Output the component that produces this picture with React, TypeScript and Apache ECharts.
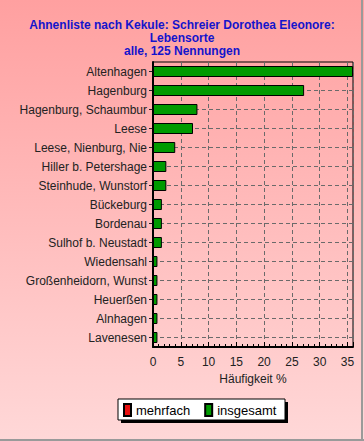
import React, { useEffect, useRef } from "react";
import * as echarts from "echarts";

const titleLines = [
  "Ahnenliste nach Kekule: Schreier Dorothea Eleonore:",
  "Lebensorte",
  "alle, 125 Nennungen",
];
const categories = [
  "Altenhagen",
  "Hagenburg",
  "Hagenburg, Schaumbur",
  "Leese",
  "Leese, Nienburg, Nie",
  "Hiller b. Petershage",
  "Steinhude, Wunstorf",
  "Bückeburg",
  "Bordenau",
  "Sulhof b. Neustadt",
  "Wiedensahl",
  "Großenheidorn, Wunst",
  "Heuerßen",
  "Alnhagen",
  "Lavenesen",
];
const insgesamt = [36, 27.2, 8, 7.2, 4, 2.4, 2.4, 1.6, 1.6, 1.6, 0.8, 0.8, 0.8, 0.8, 0.8];
const mehrfach = [0, 0, 0, 0, 0, 0, 0, 0, 0, 0, 0, 0, 0, 0, 0];
const xTicks = [0, 5, 10, 15, 20, 25, 30, 35];
const xMax = 36;
const xName = "Häufigkeit %";

export default function App() {
  const ref = useRef<HTMLDivElement>(null);
  useEffect(() => {
    document.body.style.margin = "0";
    const chart = echarts.init(ref.current!, null, { renderer: "svg" });
    const font = "Arial, 'Liberation Sans', sans-serif";
    chart.setOption({
      animation: false,
      textStyle: { fontFamily: font },
      title: {
        text: titleLines.join("\n"),
        left: "center",
        top: 13,
        textStyle: {
          fontFamily: font,
          fontSize: 12,
          fontWeight: "bold",
          color: "#1414CC",
          lineHeight: 13,
        },
      },
      graphic: [
        {
          type: "rect",
          z: -10,
          shape: { x: 0, y: 0, width: 364, height: 441 },
          style: {
            fill: new echarts.graphic.LinearGradient(0, 0, 0, 1, [
              { offset: 0, color: "#FFA0A0" },
              { offset: 1, color: "#FFD8D8" },
            ]),
          },
        },
        {
          type: "line",
          z: -5,
          shape: { x1: 362, y1: 0, x2: 362, y2: 441 },
          style: { stroke: "#9a9a9a", lineWidth: 2 },
        },
        {
          type: "line",
          z: -5,
          shape: { x1: 0, y1: 440, x2: 364, y2: 440 },
          style: { stroke: "#9a9a9a", lineWidth: 2 },
        },
        {
          type: "rect",
          z: 1,
          shape: { x: 121, y: 402, width: 167, height: 21 },
          style: { fill: "#000" },
        },
        {
          type: "rect",
          z: 2,
          shape: { x: 118, y: 399, width: 167, height: 21 },
          style: { fill: "#fff", stroke: "#000", lineWidth: 1 },
        },
      ],
      legend: {
        z: 10,
        left: 123,
        top: 403,
        padding: 0,
        itemWidth: 7,
        itemHeight: 12,
        itemGap: 14,
        icon: "rect",
        textStyle: { fontFamily: font, fontSize: 13, color: "#000" },
        data: ["mehrfach", "insgesamt"],
      },
      grid: {
        left: 153,
        right: 11,
        top: 62,
        bottom: 94,
        show: true,
        borderColor: "#000",
        borderWidth: 1,
        backgroundColor: "transparent",
      },
      xAxis: {
        type: "value",
        min: 0,
        max: xMax,
        interval: 5,
        name: xName,
        nameLocation: "middle",
        nameGap: 25,
        nameTextStyle: { fontFamily: font, fontSize: 12, color: "#222" },
        axisLine: { show: true, lineStyle: { color: "#000", width: 2 } },
        axisTick: { show: true, inside: true, length: 5, lineStyle: { color: "#000" } },
        minorTick: { show: true, splitNumber: 5, length: 3, lineStyle: { color: "#000" } },
        axisLabel: {
          fontFamily: font,
          fontSize: 12,
          color: "#222",
          margin: 9,
          showMaxLabel: false,
          formatter: (v: number) => (xTicks.includes(v) ? String(v) : ""),
        },
        splitLine: {
          show: true,
          lineStyle: { color: "#6a6a6a", type: [4, 3], width: 1 },
        },
      },
      yAxis: {
        type: "category",
        inverse: true,
        data: categories,
        axisLine: { show: true, lineStyle: { color: "#000", width: 2 } },
        axisTick: { show: true, alignWithLabel: true, length: 4, lineStyle: { color: "#222" } },
        axisLabel: { fontFamily: font, fontSize: 12, color: "#222", margin: 6 },
        splitLine: {
          show: true,
          alignWithLabel: true,
          lineStyle: { color: "#6a6a6a", type: [4, 3], width: 1 },
        },
      },
      series: [
        {
          name: "mehrfach",
          type: "bar",
          data: mehrfach,
          barWidth: 11,
          itemStyle: { color: "#E81010", borderColor: "#000", borderWidth: 1 },
        },
        {
          name: "insgesamt",
          type: "bar",
          data: insgesamt,
          barWidth: 11,
          barGap: "-100%",
          itemStyle: { color: "#009A00", borderColor: "#000", borderWidth: 1 },
        },
      ],
    });
    return () => chart.dispose();
  }, []);
  return <div ref={ref} style={{ width: 364, height: 441 }} />;
}
